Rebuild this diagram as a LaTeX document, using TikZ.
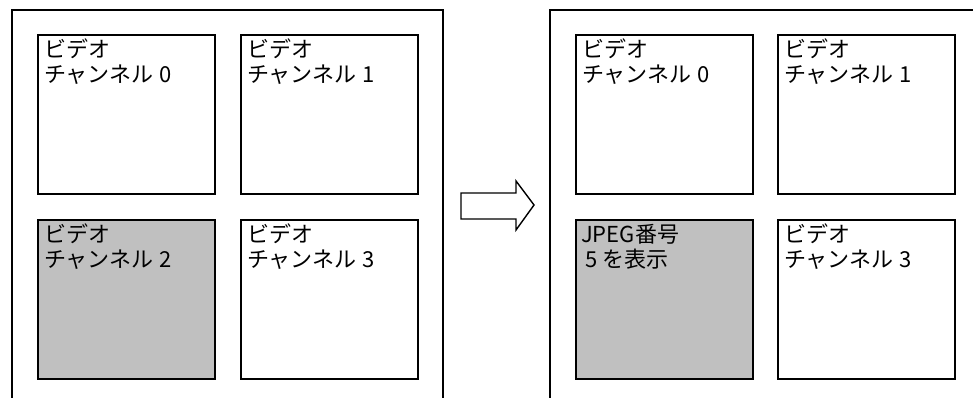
\documentclass[tikz,border=0pt]{standalone}
\usepackage{fontspec}
\setmainfont{Noto Sans CJK JP}
\begin{document}
\begin{tikzpicture}[x=1pt,y=-1pt,
  frame/.style={line width=1.8pt},
  vbox/.style={draw, line width=2.2pt, fill=white, minimum width=177pt, minimum height=159pt, anchor=north west, inner sep=0pt, outer sep=0pt},
  selbox/.style={vbox, fill=selgray},
  lbl/.style={anchor=north west, inner sep=0pt, align=left, font=\fontsize{22}{25}\selectfont},
  arr/.style={draw, line width=1.4pt, line join=miter, fill=white}]
\definecolor{selgray}{HTML}{C0C0C0}
\useasboundingbox (0,0) rectangle (973,398);
\clip (0,0) rectangle (973,398);
\fill[white] (0,0) rectangle (973,398);
% left frame
\draw[frame] (12,402) -- (12,10) -- (443,10) -- (443,402);
% right frame
\draw[frame] (550,402) -- (550,10) -- (976,10);
% left boxes
\node[vbox] (L0) at (38,35) {};
\node[vbox] (L1) at (241,35) {};
\node[selbox] (L2) at (38,220) {};
\node[vbox] (L3) at (241,220) {};
\node[lbl] (tL0) at ([shift={(6,4)}]L0.north west) {ビデオ\\チャンネル\hspace{0.25em}0};
\node[lbl] (tL1) at ([shift={(6,4)}]L1.north west) {ビデオ\\チャンネル\hspace{0.25em}1};
\node[lbl] (tL2) at ([shift={(6,4)}]L2.north west) {ビデオ\\チャンネル\hspace{0.25em}2};
\node[lbl] (tL3) at ([shift={(6,4)}]L3.north west) {ビデオ\\チャンネル\hspace{0.25em}3};
% right boxes
\node[vbox] (R0) at (576,35) {};
\node[vbox] (R1) at (778,35) {};
\node[selbox] (R2) at (576,220) {};
\node[vbox] (R3) at (778,220) {};
\node[lbl] (tR0) at ([shift={(6,4)}]R0.north west) {ビデオ\\チャンネル\hspace{0.25em}0};
\node[lbl] (tR1) at ([shift={(6,4)}]R1.north west) {ビデオ\\チャンネル\hspace{0.25em}1};
\node[lbl] (tR2) at ([shift={(5,4)}]R2.north west) {JPEG番号\\\hspace{4pt}5\hspace{0.25em}を表示};
\node[lbl] (tR3) at ([shift={(6,4)}]R3.north west) {ビデオ\\チャンネル\hspace{0.25em}3};
% arrow
\draw[arr] (461,193) -- (516,193) -- (516,181) -- (534,205) -- (516,230) -- (516,219) -- (461,219) -- cycle;
\end{tikzpicture}
\end{document}
